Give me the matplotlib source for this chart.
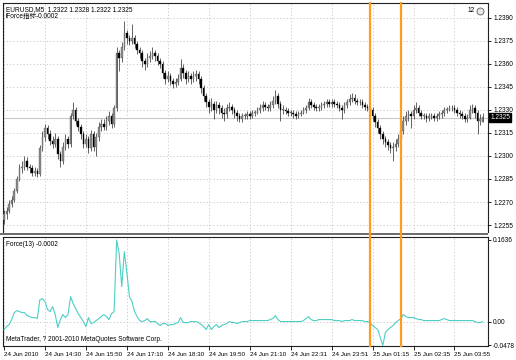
import numpy as np
import matplotlib
matplotlib.use("Agg")
import matplotlib.pyplot as plt
from matplotlib import font_manager
from matplotlib.lines import Line2D
from matplotlib.patches import Rectangle
from matplotlib.transforms import blended_transform_factory

# MetaTrader uses a narrow UI font; take the narrow Liberation face if it is there
try:
    font_manager.findfont('Liberation Sans Narrow', fallback_to_default=False)
    base_font, scale = 'Liberation Sans Narrow', 1.0
except ValueError:
    base_font, scale = 'Liberation Sans', 0.84
plt.rcParams['font.family'] = [base_font, 'Noto Sans CJK SC']

# EURUSD M5 bars
opens = [1.2258, 1.2262, 1.2264, 1.2269, 1.2271, 1.2277, 1.2285, 1.2292, 1.2293, 1.2297,
         1.2293, 1.2292, 1.2289, 1.2290, 1.2288, 1.2305, 1.2312, 1.2318, 1.2314, 1.2310,
         1.2308, 1.2311, 1.2301, 1.2297, 1.2306, 1.2311, 1.2308, 1.2326, 1.2330, 1.2323,
         1.2319, 1.2314, 1.2308, 1.2311, 1.2305, 1.2314, 1.2306, 1.2312, 1.2319, 1.2321,
         1.2319, 1.2323, 1.2326, 1.2321, 1.2331, 1.2367, 1.2364, 1.2371, 1.2380, 1.2377,
         1.2375, 1.2377, 1.2373, 1.2369, 1.2367, 1.2362, 1.2360, 1.2364, 1.2365, 1.2367,
         1.2365, 1.2362, 1.2360, 1.2354, 1.2350, 1.2352, 1.2349, 1.2347, 1.2348, 1.2350,
         1.2357, 1.2354, 1.2350, 1.2352, 1.2350, 1.2352, 1.2353, 1.2350, 1.2344, 1.2339,
         1.2335, 1.2332, 1.2334, 1.2330, 1.2333, 1.2331, 1.2328, 1.2327, 1.2331, 1.2332,
         1.2330, 1.2328, 1.2326, 1.2324, 1.2326, 1.2326, 1.2327, 1.2326, 1.2328, 1.2328,
         1.2330, 1.2331, 1.2333, 1.2332, 1.2331, 1.2333, 1.2336, 1.2339, 1.2334, 1.2330,
         1.2330, 1.2329, 1.2328, 1.2328, 1.2327, 1.2326, 1.2327, 1.2328, 1.2330, 1.2331,
         1.2335, 1.2333, 1.2332, 1.2331, 1.2332, 1.2333, 1.2334, 1.2335, 1.2334, 1.2335,
         1.2334, 1.2333, 1.2331, 1.2330, 1.2333, 1.2335, 1.2337, 1.2338, 1.2336, 1.2335,
         1.2335, 1.2333, 1.2332, 1.2331, 1.2330, 1.2326, 1.2322, 1.2318, 1.2314, 1.2311,
         1.2309, 1.2307, 1.2305, 1.2306, 1.2308, 1.2311, 1.2316, 1.2323, 1.2326, 1.2327,
         1.2326, 1.2330, 1.2331, 1.2328, 1.2326, 1.2326, 1.2325, 1.2326, 1.2326, 1.2325,
         1.2326, 1.2327, 1.2328, 1.2330, 1.2330, 1.2331, 1.2331, 1.2330, 1.2328, 1.2327,
         1.2326, 1.2324, 1.2325, 1.2330, 1.2331, 1.2328, 1.2323, 1.2322]
highs = [1.2265, 1.2267, 1.2271, 1.2274, 1.2279, 1.2287, 1.2295, 1.2297, 1.2300, 1.2299,
         1.2295, 1.2294, 1.2293, 1.2292, 1.2307, 1.2316, 1.2321, 1.2320, 1.2317, 1.2313,
         1.2315, 1.2313, 1.2303, 1.2309, 1.2314, 1.2313, 1.2328, 1.2335, 1.2332, 1.2325,
         1.2321, 1.2316, 1.2314, 1.2313, 1.2317, 1.2316, 1.2315, 1.2322, 1.2324, 1.2324,
         1.2326, 1.2329, 1.2328, 1.2333, 1.2371, 1.2369, 1.2374, 1.2388, 1.2382, 1.2379,
         1.2386, 1.2379, 1.2375, 1.2371, 1.2369, 1.2364, 1.2367, 1.2368, 1.2371, 1.2369,
         1.2367, 1.2364, 1.2362, 1.2356, 1.2355, 1.2354, 1.2351, 1.2351, 1.2353, 1.2363,
         1.2360, 1.2356, 1.2355, 1.2354, 1.2355, 1.2356, 1.2355, 1.2352, 1.2346, 1.2341,
         1.2337, 1.2338, 1.2336, 1.2336, 1.2335, 1.2333, 1.2331, 1.2334, 1.2335, 1.2334,
         1.2332, 1.2330, 1.2328, 1.2328, 1.2328, 1.2329, 1.2329, 1.2330, 1.2330, 1.2332,
         1.2334, 1.2336, 1.2335, 1.2334, 1.2336, 1.2339, 1.2343, 1.2341, 1.2336, 1.2333,
         1.2332, 1.2331, 1.2330, 1.2330, 1.2329, 1.2329, 1.2330, 1.2332, 1.2333, 1.2338,
         1.2337, 1.2335, 1.2334, 1.2334, 1.2335, 1.2336, 1.2337, 1.2337, 1.2337, 1.2337,
         1.2336, 1.2335, 1.2333, 1.2335, 1.2337, 1.2340, 1.2341, 1.2340, 1.2338, 1.2337,
         1.2337, 1.2335, 1.2334, 1.2333, 1.2332, 1.2328, 1.2324, 1.2320, 1.2316, 1.2313,
         1.2311, 1.2309, 1.2309, 1.2311, 1.2314, 1.2319, 1.2326, 1.2329, 1.2330, 1.2329,
         1.2333, 1.2335, 1.2333, 1.2330, 1.2328, 1.2328, 1.2328, 1.2328, 1.2328, 1.2328,
         1.2329, 1.2330, 1.2332, 1.2332, 1.2333, 1.2333, 1.2333, 1.2332, 1.2330, 1.2329,
         1.2328, 1.2327, 1.2333, 1.2334, 1.2333, 1.2330, 1.2327, 1.2328]
lows = [1.2256, 1.2259, 1.2263, 1.2267, 1.2270, 1.2276, 1.2284, 1.2289, 1.2291, 1.2291,
        1.2289, 1.2287, 1.2287, 1.2286, 1.2287, 1.2303, 1.2310, 1.2311, 1.2307, 1.2305,
        1.2306, 1.2298, 1.2293, 1.2295, 1.2304, 1.2305, 1.2306, 1.2324, 1.2320, 1.2316,
        1.2311, 1.2305, 1.2306, 1.2302, 1.2303, 1.2303, 1.2300, 1.2310, 1.2316, 1.2317,
        1.2317, 1.2320, 1.2318, 1.2319, 1.2329, 1.2355, 1.2361, 1.2369, 1.2373, 1.2372,
        1.2373, 1.2370, 1.2366, 1.2364, 1.2358, 1.2356, 1.2358, 1.2361, 1.2363, 1.2362,
        1.2359, 1.2357, 1.2351, 1.2347, 1.2348, 1.2346, 1.2344, 1.2345, 1.2346, 1.2349,
        1.2351, 1.2347, 1.2348, 1.2347, 1.2348, 1.2349, 1.2347, 1.2341, 1.2336, 1.2332,
        1.2328, 1.2329, 1.2324, 1.2328, 1.2327, 1.2325, 1.2323, 1.2325, 1.2329, 1.2327,
        1.2325, 1.2323, 1.2322, 1.2322, 1.2324, 1.2324, 1.2324, 1.2325, 1.2326, 1.2327,
        1.2328, 1.2329, 1.2330, 1.2329, 1.2329, 1.2331, 1.2334, 1.2331, 1.2323, 1.2327,
        1.2327, 1.2326, 1.2326, 1.2325, 1.2324, 1.2325, 1.2326, 1.2327, 1.2328, 1.2330,
        1.2331, 1.2330, 1.2329, 1.2329, 1.2330, 1.2331, 1.2332, 1.2332, 1.2332, 1.2332,
        1.2331, 1.2329, 1.2324, 1.2328, 1.2331, 1.2333, 1.2335, 1.2334, 1.2333, 1.2333,
        1.2331, 1.2330, 1.2329, 1.2327, 1.2323, 1.2319, 1.2315, 1.2311, 1.2308, 1.2306,
        1.2304, 1.2302, 1.2297, 1.2303, 1.2306, 1.2309, 1.2314, 1.2320, 1.2323, 1.2318,
        1.2324, 1.2328, 1.2326, 1.2324, 1.2324, 1.2322, 1.2323, 1.2324, 1.2323, 1.2323,
        1.2324, 1.2325, 1.2326, 1.2328, 1.2329, 1.2329, 1.2328, 1.2326, 1.2325, 1.2324,
        1.2322, 1.2322, 1.2324, 1.2328, 1.2325, 1.2314, 1.2320, 1.2322]
closes = [1.2262, 1.2264, 1.2269, 1.2271, 1.2277, 1.2285, 1.2292, 1.2293, 1.2297, 1.2293,
          1.2292, 1.2289, 1.2290, 1.2288, 1.2305, 1.2312, 1.2318, 1.2314, 1.2310, 1.2308,
          1.2311, 1.2301, 1.2297, 1.2306, 1.2311, 1.2308, 1.2326, 1.2330, 1.2323, 1.2319,
          1.2314, 1.2308, 1.2311, 1.2305, 1.2314, 1.2306, 1.2312, 1.2319, 1.2321, 1.2319,
          1.2323, 1.2326, 1.2321, 1.2331, 1.2367, 1.2364, 1.2371, 1.2380, 1.2377, 1.2375,
          1.2377, 1.2373, 1.2369, 1.2367, 1.2362, 1.2360, 1.2364, 1.2365, 1.2367, 1.2365,
          1.2362, 1.2360, 1.2354, 1.2350, 1.2352, 1.2349, 1.2347, 1.2348, 1.2350, 1.2357,
          1.2354, 1.2350, 1.2352, 1.2350, 1.2352, 1.2353, 1.2350, 1.2344, 1.2339, 1.2335,
          1.2332, 1.2334, 1.2330, 1.2333, 1.2331, 1.2328, 1.2327, 1.2331, 1.2332, 1.2330,
          1.2328, 1.2326, 1.2324, 1.2326, 1.2326, 1.2327, 1.2326, 1.2328, 1.2328, 1.2330,
          1.2331, 1.2333, 1.2332, 1.2331, 1.2333, 1.2336, 1.2339, 1.2334, 1.2330, 1.2330,
          1.2329, 1.2328, 1.2328, 1.2327, 1.2326, 1.2327, 1.2328, 1.2330, 1.2331, 1.2335,
          1.2333, 1.2332, 1.2331, 1.2332, 1.2333, 1.2334, 1.2335, 1.2334, 1.2335, 1.2334,
          1.2333, 1.2331, 1.2330, 1.2333, 1.2335, 1.2337, 1.2338, 1.2336, 1.2335, 1.2335,
          1.2333, 1.2332, 1.2331, 1.2330, 1.2326, 1.2322, 1.2318, 1.2314, 1.2311, 1.2309,
          1.2307, 1.2305, 1.2306, 1.2308, 1.2311, 1.2316, 1.2323, 1.2326, 1.2327, 1.2326,
          1.2330, 1.2331, 1.2328, 1.2326, 1.2326, 1.2325, 1.2326, 1.2326, 1.2325, 1.2326,
          1.2327, 1.2328, 1.2330, 1.2330, 1.2331, 1.2331, 1.2330, 1.2328, 1.2327, 1.2326,
          1.2324, 1.2325, 1.2330, 1.2331, 1.2328, 1.2323, 1.2324, 1.2325]

# Force(13) indicator values
force = [-0.016, -0.010, -0.006, 0.004, 0.018, 0.022, 0.020, 0.018, 0.018, 0.012,
         0.010, 0.008, 0.008, 0.006, 0.044, 0.046, 0.040, 0.024, 0.020, 0.030,
         0.014, -0.012, 0.004, 0.014, 0.008, 0.014, 0.050, 0.036, 0.026, 0.016,
         0.008, 0.000, -0.010, 0.008, -0.004, -0.002, 0.002, 0.006, 0.010, 0.014,
         0.010, 0.004, 0.016, 0.020, 0.1636, 0.136, 0.070, 0.140, 0.098, 0.050,
         0.040, 0.020, 0.010, 0.002, 0.000, 0.002, 0.006, 0.000, 0.000, 0.000,
         -0.004, -0.008, -0.004, -0.004, -0.008, -0.006, -0.006, -0.004, -0.002, 0.008,
         -0.002, -0.002, -0.002, 0.000, 0.000, 0.000, -0.002, -0.006, -0.010, -0.016,
         -0.006, -0.016, -0.010, -0.006, -0.012, -0.008, -0.006, -0.004, 0.000, -0.002,
         -0.002, -0.004, -0.002, 0.000, 0.000, 0.000, 0.002, 0.002, 0.002, 0.002,
         0.002, 0.002, 0.002, 0.002, 0.004, 0.006, 0.012, 0.004, 0.000, 0.000,
         0.000, 0.000, 0.000, 0.000, 0.000, 0.000, 0.000, 0.002, 0.006, 0.010,
         0.004, 0.002, 0.002, 0.004, 0.004, 0.004, 0.004, 0.004, 0.004, 0.002,
         0.002, 0.002, 0.000, 0.002, 0.002, 0.002, 0.004, 0.002, 0.002, 0.002,
         0.002, 0.000, 0.000, -0.002, -0.008, -0.012, -0.016, -0.032, -0.0478, -0.022,
         -0.016, -0.012, -0.008, -0.002, 0.002, 0.006, 0.014, 0.010, 0.008, 0.008,
         0.008, 0.006, 0.004, 0.004, 0.002, 0.002, 0.002, 0.002, 0.002, 0.002,
         0.002, 0.004, 0.006, 0.004, 0.002, 0.002, 0.002, 0.002, 0.002, 0.002,
         0.002, 0.002, 0.002, 0.002, 0.000, -0.002, -0.002, -0.0002]

price_ticks = [1.2255, 1.2270, 1.2285, 1.2300, 1.2315, 1.2330, 1.2345, 1.2360, 1.2375, 1.2390]
force_ticks = [-0.0478, 0.0, 0.1636]
force_tick_labels = ['-0.0478', '0.00', '0.1636']
time_bars = [0, 16, 32, 48, 64, 80, 96, 112, 128, 144, 160, 176]
time_labels = ['24 Jun 2010', '24 Jun 14:30', '24 Jun 15:50', '24 Jun 17:10', '24 Jun 18:30',
               '24 Jun 19:50', '24 Jun 21:10', '24 Jun 22:31', '24 Jun 23:51', '25 Jun 01:15',
               '25 Jun 02:35', '25 Jun 03:55']
marker_bars = [143, 155]
last_price = 1.2325

fs = 5.6 * scale      # general text size
fs_time = 5.4 * scale  # time axis labels

W, H = 516, 360
fig = plt.figure(figsize=(W / 100, H / 100), dpi=100)

def px_axes(x0, y0, x1, y1):
    return fig.add_axes([x0 / W, 1 - y1 / H, (x1 - x0) / W, (y1 - y0) / H])

ax = px_axes(3, 3, 488, 232)
ax2 = px_axes(3, 237, 488, 346)

o = np.array(opens)
h = np.array(highs)
l = np.array(lows)
c = np.array(closes)
x = np.arange(len(c))
up = c >= o

grid_kw = dict(color='#c4c4c4', lw=0.6, linestyle=(0, (1.5, 2.5)))

# main price panel
ax.vlines(x, l, h, color='#262626', lw=0.5, zorder=3)
body = np.maximum(np.abs(c - o), 0.00004)
ax.bar(x[up], body[up], bottom=o[up], width=0.62, color='#8c8c8c',
       edgecolor='#505050', lw=0.25, zorder=4)
ax.bar(x[~up], body[~up], bottom=c[~up], width=0.62, color='black',
       edgecolor='black', lw=0.25, zorder=4)
ax.axhline(last_price, color='#c8c8c8', lw=0.8, zorder=1)

ax.set_xlim(-0.4, 189.1)
ax.set_ylim(1.22505, 1.23995)
ax.set_xticks(time_bars)
ax.tick_params(axis='x', length=0, labelbottom=False)
ax.set_yticks(price_ticks, [f'{p:.4f}' for p in price_ticks])
ax.yaxis.tick_right()
ax.tick_params(axis='y', length=2.5, width=0.6, pad=1.2, labelsize=fs, colors='black')
ax.grid(True, **grid_kw)
ax.set_axisbelow(True)
for s in ax.spines.values():
    s.set_color('#202020')
    s.set_linewidth(0.8)
ax.spines['bottom'].set_visible(False)

tr_main = blended_transform_factory(ax.transAxes, ax.transData)
ax.text(1.005, last_price, f'{last_price:.4f}', transform=tr_main, fontsize=fs,
        color='white', va='center', ha='left',
        bbox=dict(facecolor='black', edgecolor='black', pad=0.8))

ax.text(0.006, 0.988, 'EURUSD,M5  1.2322 1.2328 1.2322 1.2325', transform=ax.transAxes,
        fontsize=fs, va='top', ha='left')
ax.text(0.006, 0.958, 'iForce指标-0.0002', transform=ax.transAxes,
        fontsize=fs, va='top', ha='left')
ax.text(0.972, 0.982, '12', transform=ax.transAxes, fontsize=fs, va='top', ha='right')
ax.plot([0.983], [0.965], transform=ax.transAxes, marker='o', ms=5, mfc='#e8e8e8',
        mec='#707070', mew=0.7, clip_on=False)

# Force indicator panel
ax2.plot(x, force, color='#4ccfc4', lw=0.8, zorder=3)
ax2.set_xlim(-0.4, 189.1)
ax2.set_ylim(-0.0490, 0.1696)
ax2.set_xticks(time_bars, time_labels)
for lbl in ax2.get_xticklabels():
    lbl.set_horizontalalignment('left')
ax2.tick_params(axis='x', length=3, width=0.6, pad=1.5, labelsize=fs_time)
ax2.xaxis.grid(True, **grid_kw)
ax2.set_yticks(force_ticks, force_tick_labels)
ax2.yaxis.tick_right()
ax2.tick_params(axis='y', length=2.5, width=0.6, pad=1.2, labelsize=fs)
ax2.axhline(0, zorder=1, **grid_kw)
for s in ax2.spines.values():
    s.set_color('#202020')
    s.set_linewidth(0.8)
ax2.text(0.006, 0.965, 'Force(13) -0.0002', transform=ax2.transAxes,
         fontsize=fs, va='top', ha='left')
ax2.text(0.006, 0.03, 'MetaTrader, ? 2001-2010 MetaQuotes Software Corp.',
         transform=ax2.transAxes, fontsize=fs, va='bottom', ha='left')

# separator between the panels
fig.add_artist(Rectangle((0, 1 - 235 / H), 488 / W, 2.5 / H,
                         transform=fig.transFigure, color='#6e6e6e', lw=0))

# orange vertical lines through both panels
tr_v = blended_transform_factory(ax.transData, fig.transFigure)
for b in marker_bars:
    fig.add_artist(Line2D([b, b], [1 - 346 / H, 1 - 3 / H], transform=tr_v,
                          color='#ff9c1a', lw=1.6, zorder=10))

fig.savefig('out.png', dpi=100, facecolor='white')
